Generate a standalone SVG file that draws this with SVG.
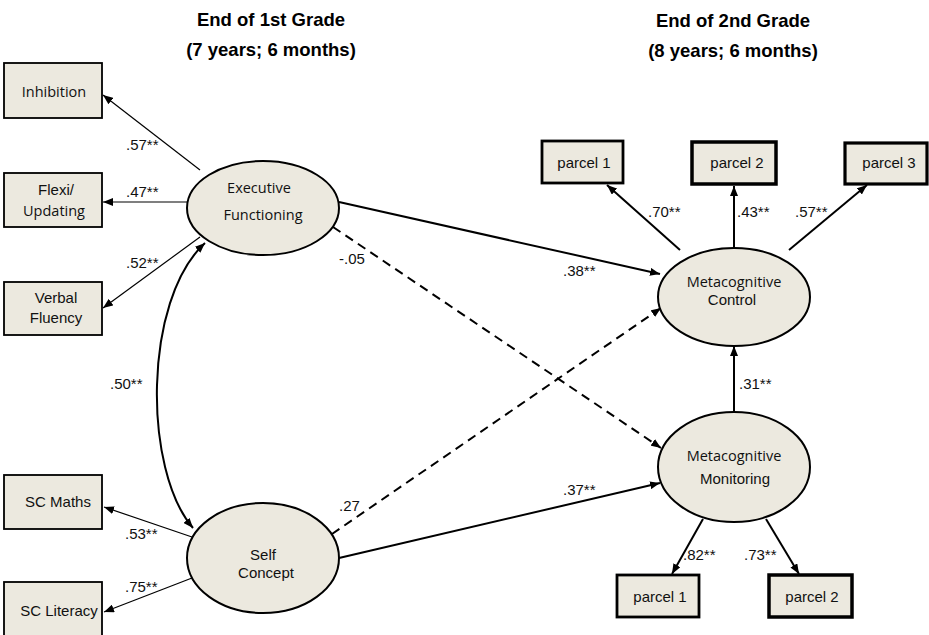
<svg xmlns="http://www.w3.org/2000/svg" width="929" height="635" viewBox="0 0 929 635">
<style>
.box{fill:#ECE9DF;stroke:#000;stroke-width:1.8}
.pbox{fill:#ECE9DF;stroke:#000;stroke-width:2.8}
.ell{fill:#ECE9DF;stroke:#000;stroke-width:2}
.t{font-family:"Liberation Sans",Arial,sans-serif;font-size:15px;fill:#111;text-anchor:middle}
.c{font-family:"Open Sans","Liberation Sans",sans-serif;font-size:14.5px;fill:#111;text-anchor:middle}
.lab{font-family:"Liberation Sans",Arial,sans-serif;font-size:15px;fill:#111}
.title{font-family:"Liberation Sans",Arial,sans-serif;font-size:18.5px;font-weight:bold;fill:#000;text-anchor:middle}
.thin{stroke:#000;stroke-width:1.2;fill:none;marker-end:url(#ah)}
.thick{stroke:#000;stroke-width:2;fill:none;marker-end:url(#ah)}
.dash{stroke:#000;stroke-width:2;fill:none;stroke-dasharray:9 6;marker-end:url(#ah)}
</style>
<defs>
<marker id="ah" viewBox="0 0 10 8" refX="10" refY="4" markerWidth="10" markerHeight="8" markerUnits="userSpaceOnUse" orient="auto-start-reverse">
<path d="M0,0 L10,4 L0,8 Z" fill="#000"/>
</marker>
</defs>
<g id="titles">
<text class="title" x="271" y="26">End of 1st Grade</text>
<text class="title" x="271" y="56">(7 years; 6 months)</text>
<text class="title" x="733" y="27">End of 2nd Grade</text>
<text class="title" x="733" y="57">(8 years; 6 months)</text>
</g>
<g id="connectors">
<line class="thin" x1="200" y1="170" x2="103" y2="95"/>
<line class="thin" x1="187" y1="202" x2="103" y2="202"/>
<line class="thin" x1="200" y1="237" x2="103" y2="308"/>
<line class="thin" x1="192" y1="537" x2="104" y2="507"/>
<line class="thin" x1="192" y1="578" x2="104" y2="612"/>
<path class="thick" d="M205,243 C143,300 143,470 193,528" marker-start="url(#ah)"/>
<line class="thick" x1="339" y1="202" x2="660" y2="274"/>
<line class="dash" x1="333" y1="227" x2="661" y2="448"/>
<line class="dash" x1="332" y1="534" x2="661" y2="308"/>
<line class="thick" x1="339" y1="558" x2="660" y2="483"/>
<line class="thick" x1="734" y1="412" x2="734" y2="346"/>
<line class="thick" x1="680" y1="250" x2="607" y2="185"/>
<line class="thick" x1="734" y1="248" x2="734" y2="186"/>
<line class="thick" x1="789" y1="250" x2="867" y2="185"/>
<line class="thick" x1="703" y1="519" x2="672" y2="574"/>
<line class="thick" x1="766" y1="519" x2="799" y2="574"/>
</g>
<g id="labels">
<text class="lab" x="126" y="150">.57**</text>
<text class="lab" x="126" y="197">.47**</text>
<text class="lab" x="126" y="268">.52**</text>
<text class="lab" x="110" y="389">.50**</text>
<text class="lab" x="125" y="539">.53**</text>
<text class="lab" x="125" y="592">.75**</text>
<text class="lab" x="648" y="217">.70**</text>
<text class="lab" x="737" y="217">.43**</text>
<text class="lab" x="795" y="217">.57**</text>
<text class="lab" x="563" y="276">.38**</text>
<text class="lab" x="339" y="264">-.05</text>
<text class="lab" x="339" y="511">.27</text>
<text class="lab" x="563" y="495">.37**</text>
<text class="lab" x="739" y="389">.31**</text>
<text class="lab" x="683" y="560">.82**</text>
<text class="lab" x="744" y="560">.73**</text>
</g>
<g id="inhibition">
<rect class="box" x="4" y="63" width="98" height="55"/>
<text class="c" x="54" y="97">Inhibition</text>
</g>
<g id="flexi-updating">
<rect class="box" x="4" y="173" width="98" height="54"/>
<text class="t" x="56" y="195">Flexi/</text>
<text class="c" x="54" y="216">Updating</text>
</g>
<g id="verbal-fluency">
<rect class="box" x="4" y="282" width="98" height="53"/>
<text class="t" x="56" y="303">Verbal</text>
<text class="t" x="56" y="323">Fluency</text>
</g>
<g id="sc-maths">
<rect class="box" x="4" y="475" width="98" height="54"/>
<text class="t" x="58" y="507">SC Maths</text>
</g>
<g id="sc-literacy">
<rect class="box" x="4" y="582" width="98" height="60"/>
<text class="t" x="59" y="616">SC Literacy</text>
</g>
<g id="executive-functioning">
<ellipse class="ell" cx="263" cy="208" rx="76" ry="47"/>
<text class="c" x="259" y="193">Executive</text>
<text class="c" x="263" y="220">Functioning</text>
</g>
<g id="self-concept">
<ellipse class="ell" cx="263" cy="558" rx="76" ry="55"/>
<text class="t" x="263" y="560">Self</text>
<text class="t" x="266" y="578">Concept</text>
</g>
<g id="metacognitive-control">
<ellipse class="ell" cx="734" cy="297" rx="76" ry="49"/>
<text class="c" x="734" y="287">Metacognitive</text>
<text class="t" x="732" y="305">Control</text>
</g>
<g id="metacognitive-monitoring">
<ellipse class="ell" cx="734" cy="467" rx="76" ry="55"/>
<text class="c" x="734" y="461">Metacognitive</text>
<text class="t" x="735" y="484">Monitoring</text>
</g>
<g id="mc-parcel1">
<rect class="pbox" x="542" y="141" width="81" height="42"/>
<text class="t" x="584" y="168">parcel 1</text>
</g>
<g id="mc-parcel2">
<rect class="pbox" x="692" y="142" width="84" height="42" style="stroke-width:3.5"/>
<text class="t" x="737" y="168">parcel 2</text>
</g>
<g id="mc-parcel3">
<rect class="pbox" x="845" y="143" width="82" height="41" style="stroke-width:3.2"/>
<text class="t" x="889" y="168">parcel 3</text>
</g>
<g id="mm-parcel1">
<rect class="pbox" x="617" y="575" width="82" height="42"/>
<text class="t" x="660" y="602">parcel 1</text>
</g>
<g id="mm-parcel2">
<rect class="pbox" x="769" y="575" width="83" height="42" style="stroke-width:3.5"/>
<text class="t" x="812" y="602">parcel 2</text>
</g>
</svg>
